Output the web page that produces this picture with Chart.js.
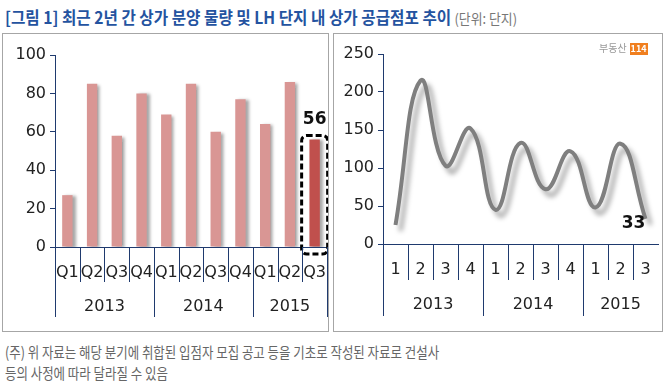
<!DOCTYPE html>
<html>
<head>
<meta charset="utf-8">
<script src="https://cdn.jsdelivr.net/npm/chart.js@4.4.1/dist/chart.umd.min.js"></script>
<style>
  body { margin: 0; width: 665px; height: 388px; background: #fff; position: relative; overflow: hidden;
         font-family: "Noto Sans CJK KR", sans-serif; }
  .title { position: absolute; left: 5px; top: 4px; white-space: nowrap; transform: scaleX(0.92); transform-origin: left top; }
  .title b { font-size: 17px; color: #2453a0; }
  .title span { font-size: 14px; color: #777; }
  .panel { position: absolute; top: 33px; height: 297px; border: 1px solid #a6a6a6; }
  .note { position: absolute; left: 5px; font-size: 15px; color: #666; white-space: nowrap;
          transform: scaleX(0.83); transform-origin: left top; }
  .logo { position: absolute; left: 599px; top: 40px; font-size: 10px; color: #999; white-space: nowrap; }
  .logo i { font-style: normal; display: inline-block; background: #f07f1f; color: #fff; font-weight: bold;
            font-size: 9px; padding: 0 1px; margin-left: 3px; line-height: 12px; }
</style>
</head>
<body>
<div class="title"><b>[그림 1] 최근 2년 간 상가 분양 물량 및 LH 단지 내 상가 공급점포 추이</b> <span>(단위: 단지)</span></div>
<div class="panel" style="left:2px; width:325px;"><canvas id="barChart" width="325" height="296"></canvas></div>
<div class="panel" style="left:333px; width:328px;"><canvas id="lineChart" width="328" height="296"></canvas></div>
<div class="logo">부동산<i>114</i></div>
<div class="note" style="top:341px;">(주) 위 자료는 해당 분기에 취합된 입점자 모집 공고 등을 기초로 작성된 자료로 건설사</div>
<div class="note" style="top:362px;">등의 사정에 따라 달라질 수 있음</div>

<script>
// ── Data ──
const quarterLabels = ['Q1', 'Q2', 'Q3', 'Q4', 'Q1', 'Q2', 'Q3', 'Q4', 'Q1', 'Q2', 'Q3'];
const quarterNums   = ['1', '2', '3', '4', '1', '2', '3', '4', '1', '2', '3'];
const years         = ['2013', '2014', '2015'];
const yearSpans     = [4, 4, 3];
const salesVolume   = [27, 85, 58, 80, 69, 85, 60, 77, 64, 86, 56];   // 상가 분양 물량
const lhStores      = [25, 215, 103, 152, 45, 133, 72, 122, 48, 132, 33]; // LH 공급점포

const NAVY = '#1f3a6e';
const TICK_FONT = { family: 'DejaVu Sans', size: 16 };

// shadow behind bars / line
const shadowPlugin = {
  id: 'shadow',
  beforeDatasetsDraw(chart, args, opts) {
    const c = chart.ctx;
    c.save();
    c.shadowColor = opts.color;
    c.shadowBlur = opts.blur;
    c.shadowOffsetX = opts.dx;
    c.shadowOffsetY = opts.dy;
  },
  afterDatasetsDraw(chart) { chart.ctx.restore(); }
};

// multi-level category axis: quarter labels, separators, year labels
const groupAxis = {
  id: 'groupAxis',
  afterDraw(chart, args, opts) {
    const c = chart.ctx;
    const x = chart.scales.x;
    const labels = chart.data.labels;
    const n = labels.length;
    const step = (x.right - x.left) / n;
    const y0 = x.top;
    c.save();
    c.strokeStyle = NAVY;
    c.lineWidth = 1;
    const yb = [0];
    let acc = 0;
    yearSpans.forEach(s => { acc += s; yb.push(acc); });
    for (let i = 0; i <= n; i++) {
      if (i === n && !opts.endLine) continue;
      const px = Math.round(x.left + i * step) + 0.5;
      const long = yb.includes(i);
      c.beginPath();
      c.moveTo(px, y0);
      c.lineTo(px, y0 + (long ? opts.longLen : opts.shortLen));
      c.stroke();
    }
    c.fillStyle = '#222';
    c.font = '16px "DejaVu Sans"';
    c.textAlign = 'center';
    c.textBaseline = 'middle';
    labels.forEach((lb, i) => c.fillText(lb, x.getPixelForValue(i), y0 + opts.qY));
    years.forEach((yr, k) => {
      const mid = x.left + (yb[k] + yb[k + 1]) / 2 * step;
      c.fillText(yr, mid, y0 + opts.yearY);
    });
    c.restore();
  }
};

// value label on the last point
const lastLabel = {
  id: 'lastLabel',
  afterDatasetsDraw(chart, args, opts) {
    const c = chart.ctx;
    const meta = chart.getDatasetMeta(0);
    const el = meta.data[meta.data.length - 1];
    const v = chart.data.datasets[0].data[meta.data.length - 1];
    c.save();
    if (opts.box) {
      const yz = chart.scales.y.getPixelForValue(0);
      c.strokeStyle = '#000';
      c.lineWidth = 3;
      c.setLineDash([6, 3]);
      c.beginPath();
      c.roundRect(el.x - 13, el.y - 4, 26, yz - el.y + 11, 5);
      c.stroke();
      c.setLineDash([]);
    }
    c.fillStyle = '#111';
    c.font = 'bold 17px "DejaVu Sans"';
    c.textAlign = 'center';
    c.textBaseline = 'middle';
    c.fillText(String(v), el.x + opts.dx, el.y + opts.dy);
    c.restore();
  }
};

function yScale(max, step, width) {
  return {
    min: 0, max: max,
    ticks: { stepSize: step, color: '#222', font: TICK_FONT, padding: 4 },
    grid: { drawOnChartArea: false, color: NAVY, tickLength: 5 },
    border: { color: NAVY },
    afterFit: s => { s.width = width; }
  };
}

function xScale(height) {
  return {
    offset: true,
    ticks: { display: false },
    grid: { display: false },
    border: { color: NAVY },
    afterFit: s => { s.height = height; }
  };
}

new Chart(document.getElementById('barChart'), {
  type: 'bar',
  data: {
    labels: quarterLabels,
    datasets: [{
      data: salesVolume,
      backgroundColor: salesVolume.map((v, i) => i === salesVolume.length - 1 ? '#c0504d' : '#d99694'),
      barPercentage: 0.42,
      categoryPercentage: 1
    }]
  },
  options: {
    responsive: false,
    animation: false,
    layout: { padding: { top: 21, right: 1, left: 0, bottom: 0 } },
    scales: { x: xScale(83), y: yScale(100, 20, 52) },
    plugins: {
      legend: { display: false },
      tooltip: { enabled: false },
      shadow: { color: 'rgba(0,0,0,0.35)', blur: 3, dx: 3, dy: 1 },
      groupAxis: { shortLen: 35, longLen: 70, qY: 26, yearY: 60, endLine: true },
      lastLabel: { box: true, dx: 0, dy: -20 }
    }
  },
  plugins: [shadowPlugin, groupAxis, lastLabel]
});

new Chart(document.getElementById('lineChart'), {
  type: 'line',
  data: {
    labels: quarterNums,
    datasets: [{
      data: lhStores,
      borderColor: '#7f7f7f',
      borderWidth: 4,
      tension: 0.45,
      pointRadius: 0,
      fill: false
    }]
  },
  options: {
    responsive: false,
    animation: false,
    layout: { padding: { top: 20, right: 4, left: 0, bottom: 0 } },
    scales: { x: xScale(86), y: yScale(250, 50, 49) },
    plugins: {
      legend: { display: false },
      tooltip: { enabled: false },
      shadow: { color: 'rgba(0,0,0,0.35)', blur: 5, dx: 5, dy: 6 },
      groupAxis: { shortLen: 36, longLen: 72, qY: 26, yearY: 61, endLine: false },
      lastLabel: { box: false, dx: -12, dy: 5 }
    }
  },
  plugins: [shadowPlugin, groupAxis, lastLabel]
});
</script>
</body>
</html>
